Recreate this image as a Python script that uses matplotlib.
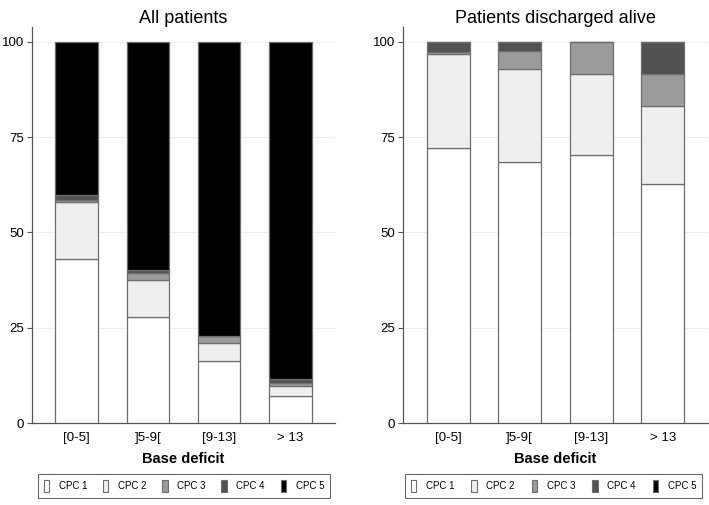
import matplotlib
matplotlib.use("Agg")
import matplotlib.pyplot as plt
import numpy as np
from matplotlib.patches import Patch

plt.rcParams['font.family'] = ['Liberation Sans', 'DejaVu Sans']

categories = ["[0-5]", "]5-9[", "[9-13]", "> 13"]
series_names = ["CPC 1", "CPC 2", "CPC 3", "CPC 4", "CPC 5"]

all_cpc1 = [43.1, 27.9, 16.2, 7.2]
all_cpc2 = [14.8, 9.7, 4.9, 2.6]
all_cpc3 = [0.6, 1.7, 1.8, 0.7]
all_cpc4 = [1.2, 1.0, 0.0, 1.0]
all_cpc5 = [40.3, 59.7, 77.1, 88.5]

alive_cpc1 = [72.1, 68.6, 70.2, 62.6]
alive_cpc2 = [24.7, 24.2, 21.4, 20.6]
alive_cpc3 = [0.5, 4.8, 8.4, 8.4]
alive_cpc4 = [2.7, 2.4, 0.0, 8.4]
alive_cpc5 = [0.0, 0.0, 0.0, 0.0]

colors = ["#ffffff", "#efefef", "#9b9b9b", "#525252", "#000000"]
edge = "#6e6e6e"

fig = plt.figure(figsize=(7.09, 5.05), dpi=100)
W, H = 709, 505

def make_ax(x0, x1):
    y_top, y_bot = 27, 423.3
    return fig.add_axes([x0 / W, 1 - y_bot / H, (x1 - x0) / W, (y_bot - y_top) / H])

panels = [
    (make_ax(32, 335), "All patients", [all_cpc1, all_cpc2, all_cpc3, all_cpc4, all_cpc5], (38, 330)),
    (make_ax(403, 708), "Patients discharged alive",
     [alive_cpc1, alive_cpc2, alive_cpc3, alive_cpc4, alive_cpc5], (405, 702)),
]

x = np.arange(len(categories))
for ax, title, data, (lx0, lx1) in panels:
    bottom = np.zeros(len(categories))
    for vals, c in zip(data, colors):
        v = np.array(vals)
        ax.bar(x, v, width=0.6, bottom=bottom, color=c, edgecolor=edge, linewidth=0.9, zorder=3)
        bottom += v
    ax.set_xlim(-0.63, 3.63)
    ax.set_ylim(0, 100 + (41.7 - 27) / 3.816)
    ax.set_yticks([0, 25, 50, 75, 100])
    ax.set_yticklabels(["0", "25", "50", "75", "100"])
    ax.set_xticks(x)
    ax.set_xticklabels(categories)
    ax.tick_params(axis='x', length=0, labelsize=9.5, pad=6)
    ax.tick_params(axis='y', length=3.5, width=0.8, color="#555555", labelsize=9.5, pad=2)
    ax.yaxis.grid(True, color="#eeeeee", linewidth=0.8, zorder=0)
    for s in ["top", "right"]:
        ax.spines[s].set_visible(False)
    for s in ["left", "bottom"]:
        ax.spines[s].set_color("#555555")
        ax.spines[s].set_linewidth(0.9)
    ax.set_title(title, fontsize=13, pad=3)
    ax.set_xlabel("Base deficit", fontsize=10.5, fontweight="bold", labelpad=6)
    handles = [Patch(facecolor=c, edgecolor=edge, linewidth=0.8) for c in colors]
    leg = fig.legend(handles, series_names, loc="center",
                     bbox_to_anchor=(lx0 / W, 1 - 499 / H, (lx1 - lx0) / W, 26 / H),
                     mode="expand", ncol=5, fontsize=7, frameon=True, fancybox=False,
                     edgecolor="#444444", handlelength=0.55, handleheight=1.6,
                     handletextpad=1.0, borderpad=0.6, borderaxespad=0)
    leg.get_frame().set_linewidth(0.8)

fig.savefig("out.png", dpi=100)
